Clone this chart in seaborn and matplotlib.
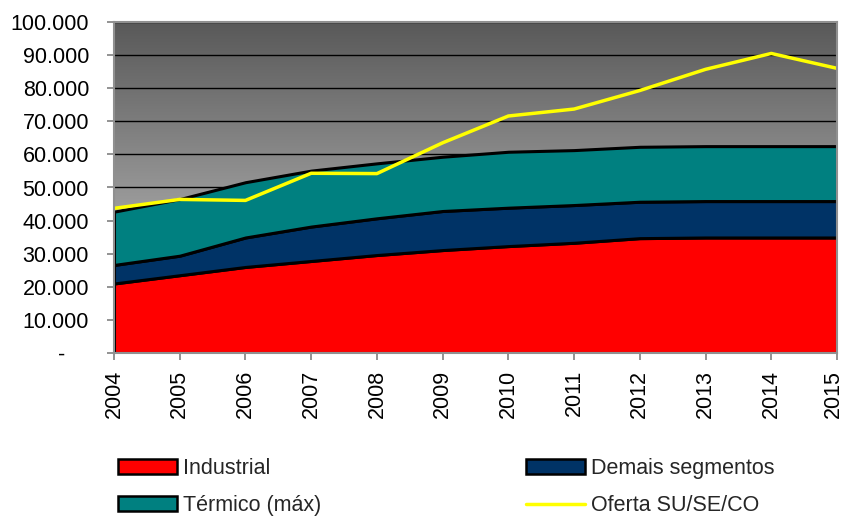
import numpy as np
import pandas as pd
import matplotlib
matplotlib.use("Agg")
import matplotlib.pyplot as plt
import matplotlib.transforms as mtransforms
from matplotlib.ticker import FuncFormatter, MultipleLocator
from matplotlib.patches import Patch
from matplotlib.lines import Line2D
import seaborn as sns

years = [2004, 2005, 2006, 2007, 2008, 2009, 2010, 2011, 2012, 2013, 2014, 2015]
industrial = [21000, 23500, 26000, 27800, 29600, 31100, 32300, 33300, 34700, 34900, 34900, 34900]
demais = [5600, 5900, 8900, 10400, 11100, 11800, 11600, 11400, 11000, 11000, 11000, 11000]
termico = [16100, 17100, 16700, 16900, 16600, 16400, 16900, 16600, 16600, 16600, 16600, 16600]
oferta = [43700, 46400, 46100, 54300, 54200, 63500, 71600, 73700, 79300, 85700, 90500, 86000]

labels = ["Industrial", "Demais segmentos", "Térmico (máx)", "Oferta SU/SE/CO"]
colors = ["#ff0000", "#003366", "#008080", "#ffff00"]

sns.set_theme(style="white")
plt.rcParams["font.family"] = ["Liberation Sans", "DejaVu Sans"]

df = pd.DataFrame({"ano": years, "Industrial": industrial, "Demais": demais,
                   "Termico": termico, "Oferta": oferta})

fig = plt.figure(figsize=(8.45, 5.16), dpi=100)
ax = fig.add_axes([114 / 845, 1 - 353 / 516, (837 - 114) / 845, (353 - 22) / 516])

# gradient background
grad = np.linspace(0, 1, 256).reshape(-1, 1)
cmap = matplotlib.colors.LinearSegmentedColormap.from_list("g", ["#cfcfcf", "#595959"])
ax.imshow(grad, extent=[years[0], years[-1], 0, 100000], origin="lower",
          aspect="auto", cmap=cmap, zorder=0)

for yv in range(10000, 100001, 10000):
    ax.axhline(yv, color="black", lw=1.0, zorder=1)

x = df["ano"].values
b0 = np.zeros(len(x))
b1 = b0 + df["Industrial"].values
b2 = b1 + df["Demais"].values
b3 = b2 + df["Termico"].values
for lo, hi, c in [(b0, b1, colors[0]), (b1, b2, colors[1]), (b2, b3, colors[2])]:
    ax.fill_between(x, lo, hi, facecolor=c, edgecolor="black", lw=2.2, zorder=2)

sns.lineplot(data=df, x="ano", y="Oferta", color=colors[3], lw=2.5, ax=ax, zorder=4)

ax.set_xlim(years[0], years[-1])
ax.set_ylim(0, 100000)
ax.set_xticks(years)
ax.set_xticklabels([str(y) for y in years], rotation=90, fontsize=15.5)
ax.yaxis.set_major_locator(MultipleLocator(10000))
ax.yaxis.set_major_formatter(FuncFormatter(
    lambda v, p: "-    " if v == 0 else f"{int(v):,}".replace(",", ".")))
ax.tick_params(axis="y", labelsize=15.5, length=5, width=1.2, color="#808080",
               left=True, pad=13, labelcolor="black")
ax.tick_params(axis="x", length=5, width=1.2, color="#808080", bottom=True, pad=7,
               labelcolor="black")
ax.set_xlabel("")
ax.set_ylabel("")
for s in ax.spines.values():
    s.set_color("#909090")
    s.set_linewidth(1.5)
    s.set_zorder(5)

# keep last year label inside the canvas, as in the reference
last = ax.get_xticklabels()[-1]
last.set_transform(last.get_transform() + mtransforms.ScaledTranslation(-4 / 100, 0, fig.dpi_scale_trans))

handles = [Patch(facecolor=colors[0], edgecolor="black", lw=1.8, label=labels[0]),
           Patch(facecolor=colors[2], edgecolor="black", lw=1.8, label=labels[2]),
           Patch(facecolor=colors[1], edgecolor="black", lw=1.8, label=labels[1]),
           Line2D([0], [0], color=colors[3], lw=2.5, label=labels[3])]
fig.legend(handles=handles, ncol=2, loc="center left",
           bbox_to_anchor=(118 / 845, 1 - 487 / 516), frameon=False,
           borderpad=0, borderaxespad=0,
           fontsize=15.5, handlelength=2.75, handleheight=0.7, handletextpad=0.28,
           columnspacing=9.5, labelspacing=0.75)

fig.savefig("out.png", dpi=100)
